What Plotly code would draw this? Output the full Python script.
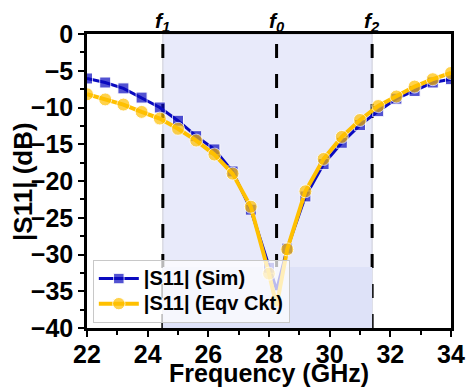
import plotly.graph_objects as go

freq = [22.0, 22.6, 23.2, 23.8, 24.4, 25.0, 25.6, 26.2, 26.8, 27.4, 28.0, 28.25,
        28.6, 29.2, 29.8, 30.4, 31.0, 31.6, 32.2, 32.8, 33.4, 34.0]
s11_sim = [-6.05, -6.6, -7.4, -8.65, -10.0, -11.8, -13.9, -15.7, -18.7, -23.9, -31.8, -34.8,
           -29.2, -22.1, -17.7, -14.8, -12.4, -10.5, -8.8, -7.75, -6.6, -6.15]
s11_eqv = [-8.2, -8.9, -9.6, -10.6, -11.5, -12.9, -14.5, -16.4, -19.0, -23.5, -32.6, -37.0,
           -29.3, -21.4, -17.0, -14.0, -11.7, -9.8, -8.5, -7.15, -6.15, -5.3]
marker_on = [1] * 11 + [0] + [1] * 10

f_lines = [24.5, 28.25, 31.4]
f_labels = ["1", "0", "2"]
band = [24.5, 31.4]

FONT = "Liberation Sans, Arial, sans-serif"
BLUE = "#0A0ABF"
GOLD = "#FFC000"

fig = go.Figure()
fig.add_trace(go.Scatter(
    x=freq, y=s11_sim, mode="lines+markers",
    name='<span style="font-size:20px">|S11| (Sim)</span>',
    line=dict(color=BLUE, width=3),
    marker=dict(symbol="square", size=[11 * m for m in marker_on], color=BLUE),
))
fig.add_trace(go.Scatter(
    x=freq, y=s11_eqv, mode="lines+markers",
    name='<span style="font-size:20px">|S11| (Eqv Ckt)</span>',
    line=dict(color=GOLD, width=4),
    marker=dict(symbol="circle", size=[13 * m for m in marker_on], color=GOLD),
))

shapes = [
    dict(type="rect", xref="x", yref="paper", x0=band[0], x1=band[1], y0=0, y1=1,
         fillcolor="rgb(232,234,250)", line=dict(color="rgb(205,205,215)", width=1), layer="below"),
    dict(type="rect", xref="x", yref="y", x0=band[0], x1=band[1], y0=-40, y1=-31.7,
         fillcolor="rgb(222,226,248)", line=dict(width=0), layer="below"),
]
for fx in f_lines:
    shapes.append(dict(type="line", xref="x", yref="paper", x0=fx, x1=fx, y0=0, y1=1,
                       line=dict(color="black", width=3, dash="14px,16px"), layer="below"))

annotations = []
for fx, lab in zip(f_lines, f_labels):
    annotations.append(dict(x=fx, y=1.0, xref="x", yref="paper", xanchor="center", yanchor="bottom",
                            yshift=-3, showarrow=False,
                            text=f"<b><i>f<sub>{lab}</sub></i></b>",
                            font=dict(family=FONT, size=21, color="black")))
annotations.append(dict(x=0.5, y=-0.152, xref="paper", yref="paper", xanchor="center", yanchor="middle",
                        showarrow=False, text="<b>Frequency (GHz)</b>",
                        font=dict(family=FONT, size=25, color="black")))
annotations.append(dict(x=-0.176, y=0.5, xref="paper", yref="paper", xanchor="center", yanchor="middle",
                        showarrow=False, textangle=-90, text="<b>|S11| (dB)</b>",
                        font=dict(family=FONT, size=26, color="black")))

fig.update_layout(
    width=466, height=387,
    margin=dict(l=87, r=15, t=34, b=59, autoexpand=False),
    paper_bgcolor="white", plot_bgcolor="white",
    shapes=shapes, annotations=annotations,
    font=dict(family=FONT, color="black"),
    legend=dict(x=0.016, y=0.017, xanchor="left", yanchor="bottom",
                bgcolor="rgba(255,255,255,0.72)", bordercolor="rgb(200,200,200)", borderwidth=1,
                font=dict(family=FONT, size=17, color="black", weight="bold"),
                tracegroupgap=0, itemwidth=40),
    showlegend=True,
)
fig.update_xaxes(
    range=[22, 34], tickmode="linear", tick0=22, dtick=2, automargin=False,
    ticks="outside", ticklen=6, tickwidth=2, tickcolor="black", ticklabelstandoff=-4,
    minor=dict(dtick=1, ticks="outside", ticklen=4, tickwidth=1.5, tickcolor="black"),
    showline=True, linecolor="black", linewidth=2.5, mirror=True,
    showgrid=False, zeroline=False,
    tickfont=dict(family=FONT, size=25, color="black", weight="bold"),
)
fig.update_yaxes(
    range=[-40, 0], tickmode="linear", tick0=0, dtick=5, automargin=False,
    ticks="outside", ticklen=6, tickwidth=2, tickcolor="black",
    minor=dict(dtick=2.5, ticks="outside", ticklen=4, tickwidth=1.5, tickcolor="black"),
    showline=True, linecolor="black", linewidth=2.5, mirror=True,
    showgrid=False, zeroline=False,
    tickfont=dict(family=FONT, size=25, color="black", weight="bold"),
)

fig.write_html("out.html")
